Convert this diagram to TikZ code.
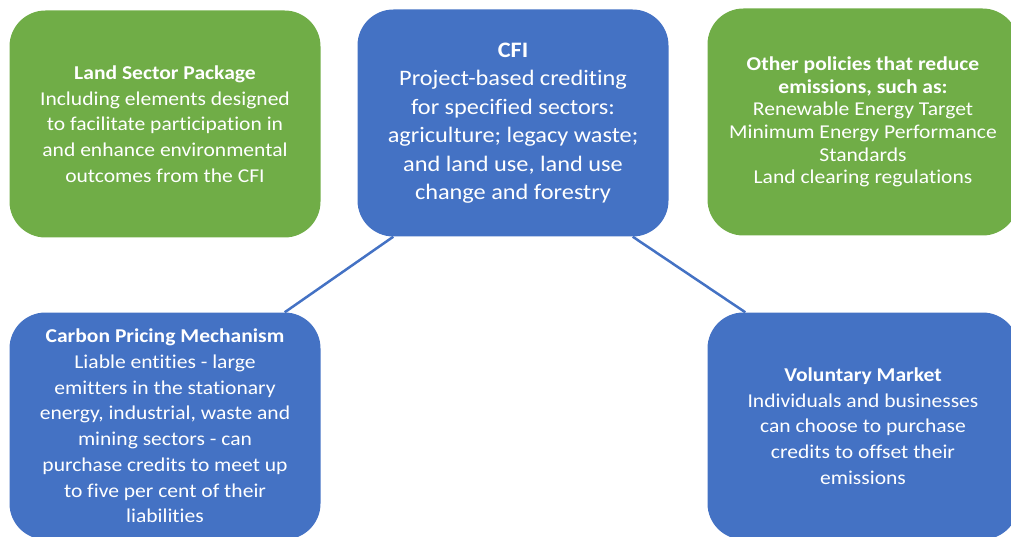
\documentclass[tikz,border=0pt]{standalone}
\usepackage{fontspec}
\setmainfont{Carlito}[FakeStretch=1.1, Ligatures=NoCommon]
\usetikzlibrary{calc}
\definecolor{policyGreen}{HTML}{70AD47}
\definecolor{policyBlue}{HTML}{4472C4}

\begin{document}
\begin{tikzpicture}[x=1pt,y=-1pt]

  \tikzstyle{policy} = [rectangle, rounded corners=36pt, minimum width=311pt, minimum height=227pt, inner sep=0pt, text=white, align=center, font={\fontsize{19.6}{25.7}\selectfont}]
  \tikzstyle{greenPolicy} = [policy, fill=policyGreen];
  \tikzstyle{bluePolicy} = [policy, fill=policyBlue];
  \tikzstyle{policyLink} = [policyBlue, line width=2.5pt];

  \useasboundingbox (0,0) rectangle (1011,537);

  % Top row: the CFI in the middle, related measures either side
  \node[greenPolicy, name=land] at (165,124) {\textbf{Land Sector Package}\\Including elements designed\\to facilitate participation in\\and enhance environmental\\outcomes from the CFI};
  \node[bluePolicy, name=cfi, font={\fontsize{22.1}{28.5}\selectfont}] at (513,123) {\textbf{CFI}\\Project-based crediting\\for specified sectors:\\agriculture; legacy waste;\\and land use, land use\\change and forestry};
  \node[greenPolicy, name=other, font={\fontsize{19.6}{22.7}\selectfont}] at (863,122) {\textbf{Other policies that reduce}\\\textbf{emissions, such as:}\\Renewable Energy Target\\Minimum Energy Performance\\Standards\\Land clearing regulations};

  % Bottom row: the markets that buy CFI credits
  \node[bluePolicy, name=carbon] at (165,426) {\textbf{Carbon Pricing Mechanism}\\Liable entities - large\\emitters in the stationary\\energy, industrial, waste and\\mining sectors - can\\purchase credits to meet up\\to five per cent of their\\liabilities};
  \node[bluePolicy, name=voluntary] at (863,426) {\textbf{Voluntary Market}\\Individuals and businesses\\can choose to purchase\\credits to offset their\\emissions};

  % CFI credits flow down to both markets
  \draw[policyLink] ($(cfi.south west)+(36,0)$) -- ($(carbon.north east)+(-36,0)$);
  \draw[policyLink] ($(cfi.south east)+(-36,0)$) -- ($(voluntary.north west)+(38,0)$);

\end{tikzpicture}
\end{document}
